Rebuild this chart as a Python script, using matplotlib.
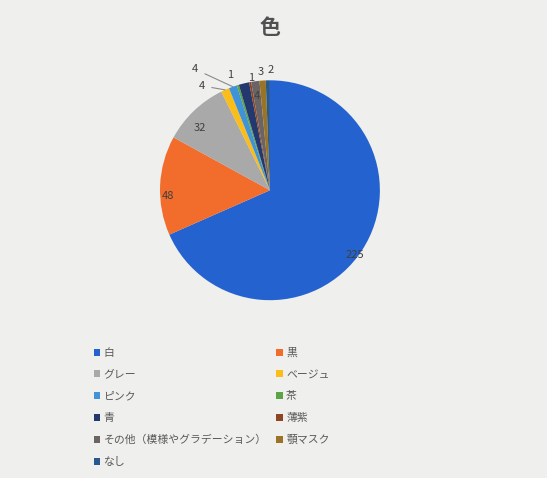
import numpy as np
import matplotlib.pyplot as plt
from matplotlib.patches import Patch

plt.rcParams['font.family'] = ['Noto Sans CJK JP', 'DejaVu Sans']

# data
categories = ['白', '黒', 'グレー', 'ベージュ', 'ピンク', '茶', '青', '薄紫',
              'その他（模様やグラデーション）', '顎マスク', 'なし']
counts = [225, 48, 32, 4, 4, 1, 5, 1, 4, 3, 2]
colors = ['#2463cf', '#f26c2c', '#a9a9a9', '#fbbd1a', '#3f93d6', '#5aa444',
          '#22386e', '#8e4522', '#6a6466', '#9a7424', '#27598e']

# where each data label goes (None = not shown), in pie units
label_pos = [(0.77, -0.59), (-0.93, -0.05), (-0.64, 0.57), (-0.62, 0.95),
             (-0.68, 1.10), (-0.36, 1.05), None, (-0.17, 1.02),
             (-0.12, 0.86), (-0.08, 1.08), (0.01, 1.09)]
leaders = [3, 4]

fig = plt.figure(figsize=(5.47, 4.78), dpi=100)
fig.patch.set_facecolor('#efefed')

ax = fig.add_axes([0.232, 0.303, 0.523, 0.598])
wedges, _ = ax.pie(counts, colors=colors, startangle=90, counterclock=False,
                   radius=1.0, wedgeprops=dict(linewidth=0))
ax.set_xlim(-1.3, 1.3)
ax.set_ylim(-1.3, 1.3)
ax.set_aspect('equal')

total = sum(counts)
start = 90.0
for i, v in enumerate(counts):
    mid = start - v / total * 360 / 2
    start -= v / total * 360
    if label_pos[i] is None:
        continue
    lx, ly = label_pos[i]
    if i in leaders:
        ex, ey = np.cos(np.radians(mid)), np.sin(np.radians(mid))
        ax.annotate(str(v), xy=(ex, ey), xytext=(lx, ly), ha='center', va='center',
                    fontsize=8, color='#404040',
                    arrowprops=dict(arrowstyle='-', color='#8a8a8a', lw=0.8,
                                    shrinkA=3, shrinkB=0))
    else:
        ax.text(lx, ly, str(v), ha='center', va='center', fontsize=8, color='#404040')

fig.text(270 / 547, 1 - 28 / 478, '色', ha='center', va='center',
         fontsize=15, fontweight='bold', color='#505050')

# legend is filled row by row like Excel does
handles = [Patch(facecolor=c, edgecolor='none') for c in colors]
order = list(range(0, len(categories), 2)) + list(range(1, len(categories), 2))
fig.legend([handles[i] for i in order], [categories[i] for i in order],
           loc='upper left', bbox_to_anchor=(84 / 547, 1 - 338 / 478),
           ncol=2, frameon=False, fontsize=7.8, labelcolor='#595959',
           handlelength=0.6, handleheight=0.6, handletextpad=0.3,
           labelspacing=1.08, columnspacing=0.9)

fig.savefig('out.png', dpi=100, facecolor=fig.get_facecolor())
